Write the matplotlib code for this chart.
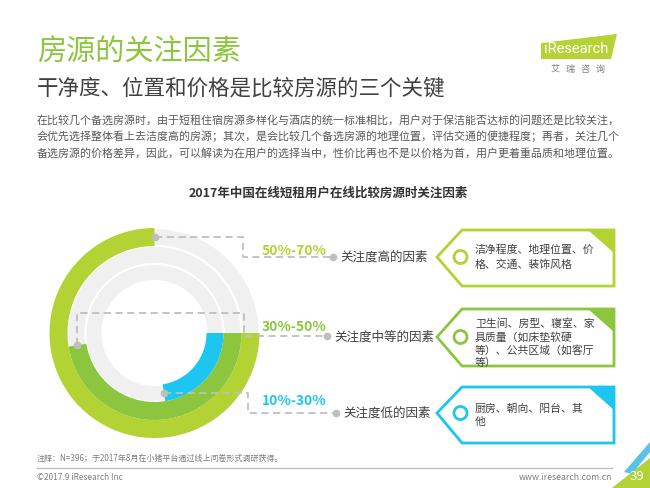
import numpy as np
import matplotlib
matplotlib.use("Agg")
import matplotlib.pyplot as plt
from matplotlib.patches import Wedge, Polygon, Circle

plt.rcParams['font.family'] = ['Noto Sans CJK SC', 'DejaVu Sans']

# data
categories = ['关注度高的因素', '关注度中等的因素', '关注度低的因素']
ranges = ['50%-70%', '30%-50%', '10%-30%']
arc_share = [0.75, 0.475, 0.225]   # share of the full circle drawn by each ring
factors = [
    ['洁净程度、地理位置、价', '格、交通、装饰风格'],
    ['卫生间、房型、寝室、家', '具质量（如床垫软硬', '等）、公共区域（如客厅', '等）'],
    ['厨房、朝向、阳台、其', '他'],
]
colors = ['#b3d234', '#8cc63f', '#1cc6f0']

W, H = 650, 488
fig = plt.figure(figsize=(6.5, 4.88), dpi=100)
ax = fig.add_axes([0, 0, 1, 1])
ax.set_xlim(0, W)
ax.set_ylim(0, H)
ax.axis('off')

def Y(py):
    return H - py

# header
ax.text(37, Y(53), '房源的关注因素', fontsize=21, color='#8cc63f', va='center')
ax.text(37, Y(89), '干净度、位置和价格是比较房源的三个关键', fontsize=15.5, color='#404040', va='center')
body = ['在比较几个备选房源时，由于短租住宿房源多样化与酒店的统一标准相比，用户对于保洁能否达标的问题还是比较关注，',
        '会优先选择整体看上去洁度高的房源；其次，是会比较几个备选房源的地理位置，评估交通的便捷程度；再者，关注几个',
        '备选房源的价格差异，因此，可以解读为在用户的选择当中，性价比再也不是以价格为首，用户更着重品质和地理位置。']
for i, line in enumerate(body):
    ax.text(37, Y(120 + i * 16.5), line, fontsize=7.9, color='#595959', va='center')

# logo
ax.add_patch(Polygon([(541, Y(43)), (617, Y(34)), (611, Y(59)), (541, Y(59))],
                     closed=True, facecolor='#b5d334', edgecolor='none'))
ax.text(544, Y(49), 'iResearch', fontsize=10.5, color='white', va='center', family='Roboto')
ax.text(578, Y(69), '艾   瑞   咨   询', fontsize=6.5, color='#7f7f7f', ha='center', va='center')

ax.text(328, Y(193), '2017年中国在线短租用户在线比较房源时关注因素', fontsize=9, fontweight='bold',
        color='#333333', ha='center', va='center')

# rings
cx, cy = 154.5, Y(333)
bands = [(87, 105), (69, 87), (52, 69)]
for r0, r1 in bands:
    ax.add_patch(Wedge((cx, cy), r1, 0, 360, width=r1 - r0, facecolor='#f0f0f0',
                       edgecolor='white', lw=1.5))
dots = []
for (r0, r1), s, c in zip(bands, arc_share, colors):
    t1 = 360 - s * 360
    ax.add_patch(Wedge((cx, cy), r1, t1, 360, width=r1 - r0, facecolor=c, edgecolor='none'))
    rm = (r0 + r1) / 2
    dots.append((cx + rm * np.cos(np.radians(t1)), cy + rm * np.sin(np.radians(t1))))

dash = dict(color='#bfbfbf', lw=1.3, ls=(0, (4, 2.5)))
dot = dict(marker='o', color='#bfbfbf', markersize=4.5, ls='none')

# connector paths (outer, middle, inner)
d = dots[0]
p0 = [(d[0], d[1]), (243, d[1]), (243, Y(257)), (333, Y(257))]
d = dots[1]
p1 = [(d[0], d[1]), (d[0], Y(313)), (244, Y(313)), (244, Y(336)), (327, Y(336))]
d = dots[2]
p2 = [(d[0], d[1]), (248, d[1]), (248, Y(413)), (336, Y(413))]
for p in (p0, p1, p2):
    xs, ys = zip(*p)
    ax.plot(xs, ys, **dash)
    ax.plot([xs[0], xs[-1]], [ys[0], ys[-1]], **dot)

lab_y = [251, 327, 401]
cat_x = [340, 334, 343]
cat_y = [257, 337, 413]
for i in range(3):
    ax.text(294, Y(lab_y[i]), ranges[i], fontsize=10, fontweight='bold', color=colors[i],
            ha='center', va='center')
    ax.text(cat_x[i], Y(cat_y[i]), categories[i], fontsize=9, color='#404040', va='center')

# boxes
box_top = [230, 309, 387]
box_bot = [286, 366, 443]
txt_y0 = [250, 324, 409]
txt_dy = [15, 13, 12.5]
for i in range(3):
    t, b = box_top[i], box_bot[i]
    m = cat_y[i]
    ax.add_patch(Polygon([(437, Y(m)), (462, Y(t)), (614, Y(t)), (614, Y(b)), (462, Y(b))],
                         closed=True, facecolor='white', edgecolor=colors[i], lw=2, zorder=3))
    ax.add_patch(Polygon([(588, Y(t)), (614, Y(t)), (614, Y(t + 23))], closed=True,
                         facecolor=colors[i], edgecolor='none', zorder=4))
    ax.add_patch(Circle((460.5, Y(m)), 6.5, facecolor='none', edgecolor=colors[i], lw=2, zorder=4))
    for j, line in enumerate(factors[i]):
        ax.text(475, Y(txt_y0[i] + j * txt_dy[i]), line, fontsize=7.8, color='#404040',
                va='center', zorder=5)

# footer
ax.text(37, Y(458), '注释：N=396；于2017年8月在小猪平台通过线上问卷形式调研获得。', fontsize=5.8,
        color='#7f7f7f', va='center')
ax.plot([37, 612], [Y(468), Y(468)], color='#bfbfbf', lw=1)
ax.text(37, Y(477), '©2017.9 iResearch Inc', fontsize=6, color='#7f7f7f', va='center')
ax.text(612, Y(477), 'www.iresearch.com.cn', fontsize=6.3, color='#7f7f7f', va='center', ha='right')
ax.add_patch(Polygon([(612, 0), (650, 0), (650, Y(458))], closed=True, facecolor='#b3d234', edgecolor='none'))
ax.add_patch(Polygon([(624, Y(472)), (650, Y(442)), (650, Y(452)), (632, Y(474))], closed=True,
                     facecolor='#5bc2e7', edgecolor='none'))
ax.text(637, Y(477), '39', fontsize=9.5, color='white', ha='center', va='center')

fig.savefig('out.png', dpi=100)
